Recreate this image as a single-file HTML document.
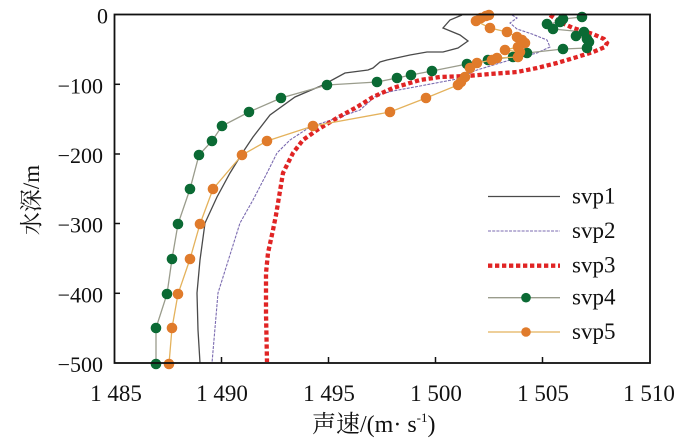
<!DOCTYPE html>
<html>
<head>
<meta charset="utf-8">
<style>
html,body{margin:0;padding:0;background:#fff;}
svg{display:block;}
text{font-family:"Liberation Serif","Noto Serif CJK SC",serif;fill:#111;}
</style>
</head>
<body>
<svg width="700" height="448" viewBox="0 0 700 448" xmlns="http://www.w3.org/2000/svg">
<rect width="700" height="448" fill="#fff"/>

<!-- svp1 -->
<polyline fill="none" stroke="#4a4a4a" stroke-width="1.3" points="462,15 450,20 443,28 460,35 468,41 458,48 443,52 427,52 410,55 387,60 380,62 373,68 368,70 345,73 323,85 295,97 270,115 253,137 243,152 230,173 217,197 205,223 200,260 197,293 198,330 200,363"/>
<!-- svp2 -->
<polyline fill="none" stroke="#7b6bb0" stroke-width="1.1" stroke-dasharray="3 1.2" points="512,15 517,18 510,23 517,29 532,34 547,40 550,47 537,53 517,58 500,63 477,70 457,79 420,86 393,91 377,95 360,110 337,118 310,127 290,140 277,153 267,173 253,200 240,223 218,293 212,363"/>
<!-- svp3 -->
<polyline fill="none" stroke="#e02424" stroke-width="4.3" stroke-dasharray="4.3 2.7" points="550,15 560,22 573,28 593,34 604,39 607,43 605,47 593,52 577,57 557,63 537,68 517,72 490,74 467,76 440,77 420,80 393,88 373,97 357,107 337,118 317,130 303,140 293,153 283,173 279,197 276,215 273,230 268,253 266,273 266,313 267,362"/>

<!-- svp4 -->
<g>
<polyline fill="none" stroke="#9a9c8c" stroke-width="1.3" points="582,17 563,19 560,22 547,24 553,29 584,32 576,36 587,39 589,42 587,48 563,49 527,53 513,57 488,60 467,64 432,71 411,75 397,78 377,82 327,85 281,98 249,112 222,126 212,141 199,155 190,189 178,224 172,259 167,294 156,328 156,364"/>
<g fill="#0b6a34">
<circle cx="582" cy="17" r="5.3"/><circle cx="563" cy="19" r="5.3"/><circle cx="560" cy="22" r="5.3"/><circle cx="547" cy="24" r="5.3"/><circle cx="553" cy="29" r="5.3"/><circle cx="584" cy="32" r="5.3"/><circle cx="576" cy="36" r="5.3"/><circle cx="587" cy="39" r="5.3"/><circle cx="589" cy="42" r="5.3"/><circle cx="587" cy="48" r="5.3"/><circle cx="563" cy="49" r="5.3"/><circle cx="527" cy="53" r="5.3"/><circle cx="513" cy="57" r="5.3"/><circle cx="488" cy="60" r="5.3"/><circle cx="467" cy="64" r="5.3"/><circle cx="432" cy="71" r="5.3"/><circle cx="411" cy="75" r="5.3"/><circle cx="397" cy="78" r="5.3"/><circle cx="377" cy="82" r="5.3"/><circle cx="327" cy="85" r="5.3"/><circle cx="281" cy="98" r="5.3"/><circle cx="249" cy="112" r="5.3"/><circle cx="222" cy="126" r="5.3"/><circle cx="212" cy="141" r="5.3"/><circle cx="199" cy="155" r="5.3"/><circle cx="190" cy="189" r="5.3"/><circle cx="178" cy="224" r="5.3"/><circle cx="172" cy="259" r="5.3"/><circle cx="167" cy="294" r="5.3"/><circle cx="156" cy="328" r="5.3"/><circle cx="156" cy="364" r="5.3"/>
</g>
</g>

<!-- svp5 -->
<g>
<polyline fill="none" stroke="#e4b25c" stroke-width="1.3" points="486,15 481,17 476,21 490,28 507,32 517,37 522,40 525,43 518,47 505,50 520,52 518,57 497,58 492,60 477,63 470,68 465,77 461,82 458,85 426,98 390,112 313,126 267,141 242,155 213,189 200,224 190,259 178,294 172,328 169,364"/>
<g fill="#e07b2b">
<circle cx="489" cy="15" r="5.3"/><circle cx="486" cy="16" r="5.3"/><circle cx="481" cy="18" r="5.3"/><circle cx="476" cy="21" r="5.3"/><circle cx="490" cy="28" r="5.3"/><circle cx="507" cy="32" r="5.3"/><circle cx="517" cy="37" r="5.3"/><circle cx="522" cy="40" r="5.3"/><circle cx="525" cy="43" r="5.3"/><circle cx="518" cy="47" r="5.3"/><circle cx="505" cy="50" r="5.3"/><circle cx="520" cy="52" r="5.3"/><circle cx="518" cy="57" r="5.3"/><circle cx="497" cy="58" r="5.3"/><circle cx="492" cy="60" r="5.3"/><circle cx="477" cy="63" r="5.3"/><circle cx="470" cy="68" r="5.3"/><circle cx="465" cy="77" r="5.3"/><circle cx="461" cy="82" r="5.3"/><circle cx="458" cy="85" r="5.3"/><circle cx="426" cy="98" r="5.3"/><circle cx="390" cy="112" r="5.3"/><circle cx="313" cy="126" r="5.3"/><circle cx="267" cy="141" r="5.3"/><circle cx="242" cy="155" r="5.3"/><circle cx="213" cy="189" r="5.3"/><circle cx="200" cy="224" r="5.3"/><circle cx="190" cy="259" r="5.3"/><circle cx="178" cy="294" r="5.3"/><circle cx="172" cy="328" r="5.3"/><circle cx="169" cy="364" r="5.3"/>
</g>
</g>

<!-- frame -->
<rect x="114.5" y="14.5" width="535.5" height="348.5" fill="none" stroke="#111" stroke-width="1.8"/>
<g stroke="#111" stroke-width="1.5">
<line x1="114.5" y1="84.3" x2="120" y2="84.3"/>
<line x1="114.5" y1="154" x2="120" y2="154"/>
<line x1="114.5" y1="223.5" x2="120" y2="223.5"/>
<line x1="114.5" y1="293.3" x2="120" y2="293.3"/>
<line x1="221.5" y1="363" x2="221.5" y2="357"/>
<line x1="328.5" y1="363" x2="328.5" y2="357"/>
<line x1="435.5" y1="363" x2="435.5" y2="357"/>
<line x1="542.5" y1="363" x2="542.5" y2="357"/>
</g>

<!-- y tick labels -->
<g font-size="22" text-anchor="end">
<text x="108" y="23.5">0</text>
<text x="103" y="93.3">−100</text>
<text x="103" y="163">−200</text>
<text x="103" y="232.5">−300</text>
<text x="103" y="302.3">−400</text>
<text x="103" y="372">−500</text>
</g>
<!-- x tick labels -->
<g font-size="23" text-anchor="middle">
<text x="116" y="401">1 485</text>
<text x="222" y="401">1 490</text>
<text x="329" y="401">1 495</text>
<text x="436" y="401">1 500</text>
<text x="543" y="401">1 505</text>
<text x="649" y="401">1 510</text>
</g>

<!-- axis titles -->
<text x="39" y="200" font-size="23" text-anchor="middle" transform="rotate(-90 39 200)">水深/m</text>
<text x="312" y="432" font-size="24">声速/(m· s<tspan dy="-10" font-size="13">-1</tspan><tspan dy="10">)</tspan></text>

<!-- legend -->
<g>
<line x1="488" y1="196.5" x2="560" y2="196.5" stroke="#4a4a4a" stroke-width="1.3"/>
<line x1="488" y1="231" x2="560" y2="231" stroke="#7b6bb0" stroke-width="1.1" stroke-dasharray="3 1.2"/>
<line x1="488" y1="265.7" x2="560" y2="265.7" stroke="#e02424" stroke-width="4.3" stroke-dasharray="4.3 2.7"/>
<line x1="488" y1="297.7" x2="560" y2="297.7" stroke="#9a9c8c" stroke-width="1.3"/>
<circle cx="526" cy="297.7" r="4.8" fill="#0b6a34"/>
<line x1="488" y1="332" x2="560" y2="332" stroke="#e4b25c" stroke-width="1.3"/>
<circle cx="526" cy="332" r="4.8" fill="#e07b2b"/>
<g font-size="23">
<text x="572" y="203.5">svp1</text>
<text x="572" y="238">svp2</text>
<text x="572" y="272.7">svp3</text>
<text x="572" y="304.7">svp4</text>
<text x="572" y="339">svp5</text>
</g>
</g>
</svg>
</body>
</html>
